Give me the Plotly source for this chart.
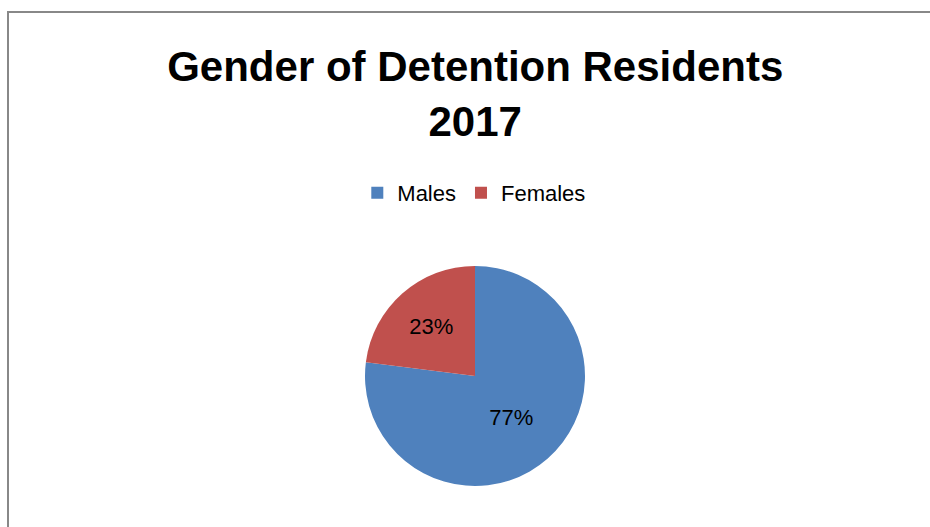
import plotly.graph_objects as go

labels = ["Males", "Females"]
values = [77, 23]
colors = ["#4F81BD", "#C0504D"]

W, H = 930, 527
cx, cy, r = 475, 376, 110
FONT = "Liberation Sans, Arial, sans-serif"

fig = go.Figure(go.Pie(
    labels=labels, values=values, sort=False, direction="clockwise", rotation=0,
    marker=dict(colors=colors, line=dict(color="white", width=0)),
    textinfo="percent", textposition="inside", insidetextorientation="horizontal",
    textfont=dict(family=FONT, size=22, color="black"),
    domain=dict(x=[(cx - r) / W, (cx + r) / W], y=[(H - cy - r) / H, (H - cy + r) / H]),
    hoverinfo="label+percent",
))

fig.update_layout(
    width=W, height=H, margin=dict(l=0, r=0, t=0, b=0),
    paper_bgcolor="white", plot_bgcolor="white",
    title=dict(text="<b>Gender of Detention Residents<br>2017</b>", x=0.511, xanchor="center",
               y=1 - 81 / H, yanchor="middle",
               font=dict(family=FONT, size=42, color="black")),
    legend=dict(orientation="h", x=0.51, xanchor="center", y=1 - 193 / H, yanchor="middle",
                font=dict(family=FONT, size=22, color="black"),
                itemwidth=30, traceorder="normal"),
    shapes=[dict(type="rect", xref="paper", yref="paper", x0=8 / W, x1=1.05, y0=-0.05, y1=1 - 12 / H,
                 line=dict(color="#888888", width=2), fillcolor="rgba(0,0,0,0)", layer="below")],
)

fig.write_html("out.html", config={"displayModeBar": False},
               post_script="document.body.style.margin='0';document.body.style.overflow='hidden';")
